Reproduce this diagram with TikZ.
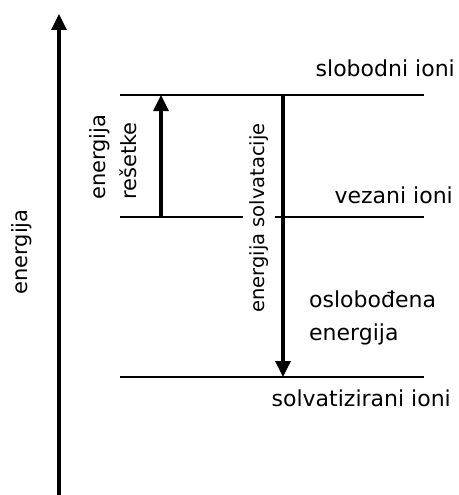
\documentclass[tikz,border=0pt]{standalone}
\usepackage{fontspec}
\setmainfont{DejaVu Sans}
\usetikzlibrary{arrows.meta}
\tikzset{
  level/.style={line width=2pt},
  jump/.style={line width=3.2pt,-{Triangle[width=15pt,length=16pt]}},
  lbl/.style={inner sep=0pt,font=\fontsize{21}{31}\selectfont},
  ion/.style={lbl,anchor=base east,font=\fontsize{22}{31}\selectfont},
}
\begin{document}
\begin{tikzpicture}[x=1pt,y=-1pt]
\useasboundingbox (0,0) rectangle (458,495);
% energy axis
\coordinate (os-a) at (59,495);
\coordinate (os-b) at (59,14);
\draw[jump] (os-a) -- (os-b);
\node[lbl,rotate=90] (os) at (22,252) {energija};
% levels
\foreach \y/\n in {95/sl,217/vz,377/sv}{
  \coordinate (\n-l) at (120,\y);
  \coordinate (\n-r) at (424,\y);
  \draw[level] (\n-l) -- (\n-r);
}
\node[ion] (sl) at (455,77) {slobodni ioni};
\node[ion] (vz) at (453,203) {vezani ioni};
\node[ion] (sv) at (451,406) {solvatizirani ioni};
% lattice energy
\coordinate (rs-a) at (161,217);
\coordinate (rs-b) at (161,95);
\draw[jump] (rs-a) -- (rs-b);
\node[lbl,rotate=90,align=left,anchor=south west] (rs) at (137,200) {energija\\rešetke};
% solvation energy
\node[lbl,rotate=90,fill=white,inner ysep=6.5pt,font=\fontsize{19.5}{31}\selectfont] (sol) at (259,218) {energija solvatacije};
\coordinate (so-a) at (283,95);
\coordinate (so-b) at (283,377);
\draw[jump] (so-a) -- (so-b);
\node[lbl,align=left,anchor=west,font=\fontsize{22}{33}\selectfont] (osl) at (309,318) {oslobođena\\energija};
\end{tikzpicture}
\end{document}
